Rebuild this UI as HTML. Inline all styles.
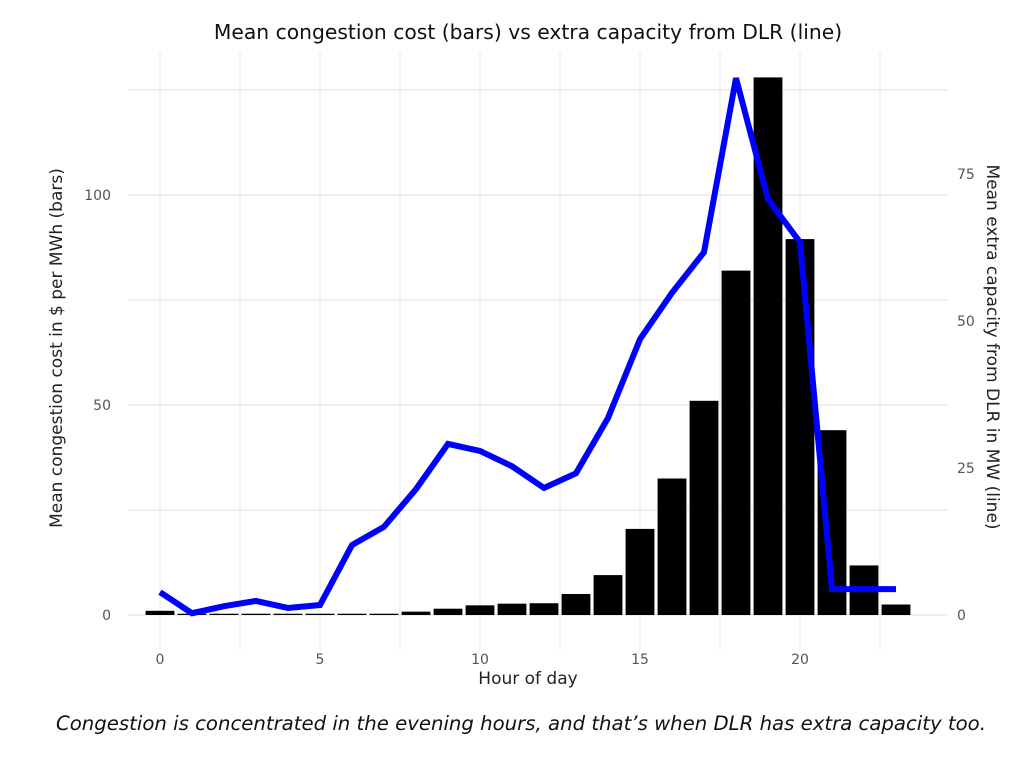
<!DOCTYPE html>
<html><head><meta charset="utf-8"><style>
body{margin:0;background:#fff;}
svg{display:block;font-family:"DejaVu Sans","Liberation Sans",sans-serif;}
</style></head><body>
<svg id="chart" width="1024" height="757">
<text x="528" y="39" text-anchor="middle" font-size="20.3" fill="#111">Mean congestion cost (bars) vs extra capacity from DLR (line)</text>
<g id="grid"></g>
<g id="bars"></g>
<g id="line"></g>
<g id="axes"></g>
<text x="528" y="684" text-anchor="middle" font-size="17" fill="#222">Hour of day</text>
<text transform="translate(62,348) rotate(-90)" text-anchor="middle" font-size="17" fill="#222">Mean congestion cost in $ per MWh (bars)</text>
<text transform="translate(987,347) rotate(90)" text-anchor="middle" font-size="17" fill="#222">Mean extra capacity from DLR in MW (line)</text>
<text x="521" y="730" text-anchor="middle" font-size="19.7" font-style="italic" fill="#111">Congestion is concentrated in the evening hours, and that’s when DLR has extra capacity too.</text>
</svg>
<script>
const hours=[0,1,2,3,4,5,6,7,8,9,10,11,12,13,14,15,16,17,18,19,20,21,22,23];
const costValues=[1,0.3,0.3,0.3,0.3,0.3,0.3,0.3,0.8,1.5,2.3,2.7,2.8,5,9.5,20.5,32.5,51,82,128,89.5,44,11.8,2.5];
const capacityValues=[3.9,0.3,1.5,2.4,1.2,1.7,11.9,15,21.4,29.1,27.9,25.3,21.6,24.1,33.5,46.9,54.8,61.7,91.3,70.7,63.4,4.4,4.4,4.4];
const xTicks=[0,5,10,15,20];
const leftTicks=[0,50,100];
const rightTicks=[0,25,50,75];
const NS="http://www.w3.org/2000/svg";
const x=h=>160+32*h;
const yL=v=>615-4.2*v;
const yR=v=>615-5.88*v;
function mk(tag,attrs,parent){const e=document.createElementNS(NS,tag);for(const k in attrs)e.setAttribute(k,attrs[k]);parent.appendChild(e);return e;}
const grid=document.getElementById('grid');
for(let h=-2.5;h<=25;h+=2.5){if(x(h)<128||x(h)>948)continue;
 const g=mk('line',{x1:x(h),x2:x(h),y1:53,y2:650,stroke:'#e8e8e8','stroke-width':1.2},grid);
 
 }
for(let v=0;v<=125;v+=25){
 const g=mk('line',{x1:128,x2:948,y1:yL(v),y2:yL(v),stroke:'#e8e8e8','stroke-width':1.2},grid);
 
 }
const bars=document.getElementById('bars');
hours.forEach((h,i)=>{const v=costValues[i];
 const r=mk('rect',{x:x(h)-14.4,y:yL(v),width:28.8,height:yL(0)-yL(v),fill:'#000'},bars);
 
 });
const line=document.getElementById('line');
const p=mk('polyline',{points:hours.map((h,i)=>x(h)+','+yR(capacityValues[i])).join(' '),fill:'none',stroke:'#0000ff','stroke-width':6,'stroke-linejoin':'miter','stroke-miterlimit':3},line);


const axes=document.getElementById('axes');
xTicks.forEach(t=>{const e=mk('text',{x:x(t),y:664,'text-anchor':'middle','font-size':14,fill:'#555'},axes);e.textContent=t;
 
 });
leftTicks.forEach(t=>{const e=mk('text',{x:111,y:yL(t)+5,'text-anchor':'end','font-size':14,fill:'#555'},axes);e.textContent=t;
 
 });
rightTicks.forEach(t=>{const e=mk('text',{x:957,y:yR(t)+5,'text-anchor':'start','font-size':14,fill:'#555'},axes);e.textContent=t;
 
 });
</script>
</body></html>
